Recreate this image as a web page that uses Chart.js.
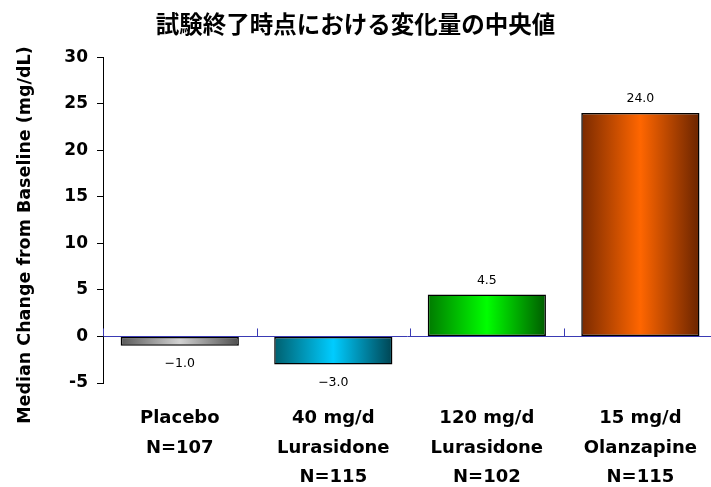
<!DOCTYPE html>
<html>
<head>
<meta charset="utf-8">
<script src="https://cdn.jsdelivr.net/npm/chart.js@4/dist/chart.umd.min.js"></script>
<style>
  html, body { margin: 0; padding: 0; background: #ffffff; }
  canvas { display: block; }
</style>
</head>
<body>
<canvas id="chart" width="711" height="487"></canvas>
<script>
// Median change from baseline at study end (mg/dL)
const categories = [
  ['Placebo', 'N=107'],
  ['40 mg/d', 'Lurasidone', 'N=115'],
  ['120 mg/d', 'Lurasidone', 'N=102'],
  ['15 mg/d', 'Olanzapine', 'N=115']
];
const medianChange = [-1.0, -3.0, 4.5, 24.0];
const yTicks = { min: -5, max: 30, step: 5 };

const chartTitle = '試験終了時点における変化量の中央値';
const yAxisTitle = 'Median Change from Baseline (mg/dL)';

// Bar shading: dark edges, bright centre
const edgeLeft   = ['#595959', '#005f6e', '#007a00', '#7a2a00'];
const centreTone = ['#d2d2d2', '#00ccff', '#00ff00', '#ff6600'];
const edgeRight  = ['#4f4f4f', '#004452', '#005c00', '#6a2400'];

const ZERO_LINE = '#3a3ab4';
const BAR_PCT = 0.77;

function fmt(v) {
  const s = Math.abs(v).toFixed(1);
  return v < 0 ? '\u2212' + s : s;
}

function barFill(ctx) {
  const chart = ctx.chart;
  const xs = chart.scales.x;
  const i = ctx.dataIndex;
  if (!xs || ctx.type !== 'data' || i === undefined) return centreTone[0];
  const cx = xs.getPixelForValue(i);
  const hw = (xs.getPixelForValue(1) - xs.getPixelForValue(0)) * BAR_PCT / 2;
  if (!isFinite(cx) || !isFinite(hw) || hw <= 0) return centreTone[i];
  const g = chart.ctx.createLinearGradient(cx - hw, 0, cx + hw, 0);
  g.addColorStop(0, edgeLeft[i]);
  g.addColorStop(0.5, centreTone[i]);
  g.addColorStop(1, edgeRight[i]);
  return g;
}

// Value labels above positive bars, below negative ones
const valueLabels = {
  id: 'valueLabels',
  afterDatasetsDraw(chart) {
    const c = chart.ctx;
    const meta = chart.getDatasetMeta(0);
    c.save();
    c.font = '12.5px "DejaVu Sans"';
    c.fillStyle = '#000000';
    c.textAlign = 'center';
    c.textBaseline = 'middle';
    meta.data.forEach((el, i) => {
      const v = medianChange[i];
      const y = v >= 0 ? el.y - 14 : el.y + 18;
      c.fillText(fmt(v), el.x, y);
    });
    c.restore();
  }
};

// Small upward marks on the zero line between categories
const categoryMarks = {
  id: 'categoryMarks',
  afterDatasetsDraw(chart) {
    const xs = chart.scales.x, ys = chart.scales.y;
    const c = chart.ctx;
    const y0 = ys.getPixelForValue(0);
    c.save();
    c.strokeStyle = ZERO_LINE;
    c.lineWidth = 1;
    c.beginPath();
    for (let k = 0; k <= categories.length; k++) {
      const x = Math.round(xs.getPixelForValue(k - 0.5)) + 0.5;
      c.moveTo(x, y0 - 8);
      c.lineTo(x, y0);
    }
    c.stroke();
    c.restore();
  }
};

// Rotated y-axis caption, sitting slightly below the plot's mid-height
const yCaption = {
  id: 'yCaption',
  afterDraw(chart) {
    const a = chart.chartArea;
    const c = chart.ctx;
    c.save();
    c.translate(25, (a.top + a.bottom) / 2 + 15);
    c.rotate(-Math.PI / 2);
    c.font = 'bold 17.5px "DejaVu Sans"';
    c.fillStyle = '#000000';
    c.textAlign = 'center';
    c.textBaseline = 'middle';
    c.fillText(yAxisTitle, 0, 0);
    c.restore();
  }
};

new Chart(document.getElementById('chart'), {
  type: 'bar',
  data: {
    datasets: [{
      data: medianChange.map((v, i) => ({ x: i, y: v })),
      backgroundColor: barFill,
      borderColor: '#000000',
      borderWidth: 1.5,
      borderSkipped: false,
      barPercentage: BAR_PCT,
      categoryPercentage: 1
    }]
  },
  options: {
    responsive: false,
    animation: false,
    devicePixelRatio: 1,
    layout: { padding: { left: 0, right: 0, top: 0, bottom: 0 } },
    plugins: {
      legend: { display: false },
      tooltip: { enabled: false },
      title: {
        display: true,
        text: chartTitle,
        color: '#000000',
        font: { family: '"Noto Sans CJK JP"', size: 23.5, weight: 'bold', lineHeight: 1.2 },
        padding: { top: 10, bottom: 19 }
      }
    },
    scales: {
      x: {
        type: 'linear',
        min: -0.5,
        max: 3.46,
        offset: false,
        grid: { display: false, drawTicks: false },
        border: { display: false },
        afterBuildTicks(scale) {
          scale.ticks = categories.map((_, i) => ({ value: i }));
        },
        afterFit(scale) {
          scale.height = 104;
          scale.paddingLeft = 0;
          scale.paddingRight = 0;
        },
        ticks: {
          autoSkip: false,
          maxRotation: 0,
          padding: 21,
          color: '#000000',
          font: { family: '"DejaVu Sans"', size: 18, weight: 'bold', lineHeight: 1.64 },
          callback: (value) => categories[value]
        }
      },
      y: {
        min: yTicks.min,
        max: yTicks.max,
        afterFit(scale) { scale.width = 103; },
        ticks: {
          stepSize: yTicks.step,
          padding: 9,
          color: '#000000',
          font: { family: '"DejaVu Sans"', size: 17, weight: 'bold' }
        },
        grid: {
          color: (ctx) => (ctx.tick && ctx.tick.value === 0 ? ZERO_LINE : 'rgba(0,0,0,0)'),
          tickColor: '#000000',
          tickLength: 6,
          lineWidth: 1
        },
        border: { display: true, color: '#000000', width: 1 },
        title: { display: false, text: yAxisTitle }
      }
    }
  },
  plugins: [valueLabels, categoryMarks, yCaption]
});
</script>
</body>
</html>
